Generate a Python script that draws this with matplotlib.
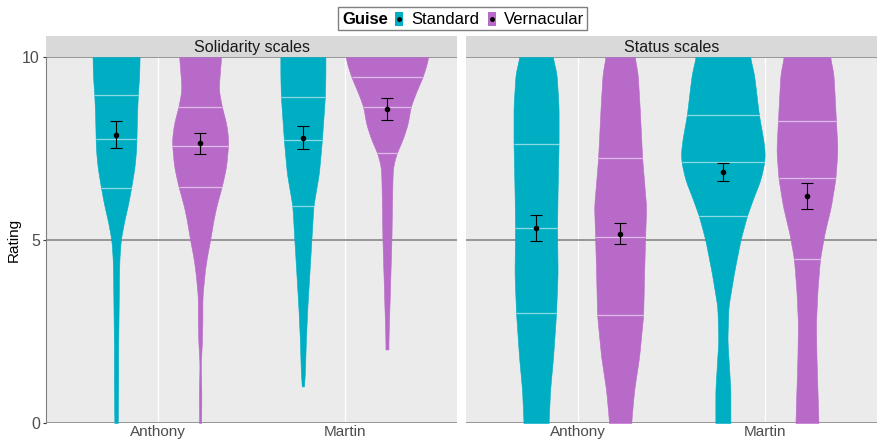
import numpy as np
import matplotlib
matplotlib.use("Agg")
import matplotlib.pyplot as plt
from matplotlib.patches import Rectangle

plt.rcParams['font.family'] = ['Liberation Sans', 'DejaVu Sans']

panels = ["Solidarity scales", "Status scales"]
speakers = ["Anthony", "Martin"]
guises = ["Standard", "Vernacular"]
colors = {"Standard": "#00AEC3", "Vernacular": "#B86AC8"}

# violin profiles: rating levels and relative width (1 = widest violin)
prof_y = {
    ("Solidarity scales", "Anthony", "Standard"): [0, 1, 2, 3, 4, 4.5, 5, 5.5, 6, 6.5, 7, 7.5, 8, 8.5, 9, 9.5, 10],
    ("Solidarity scales", "Anthony", "Vernacular"): [0, 0.8, 1.6, 2.2, 2.8, 3.45, 4.1, 4.5, 5, 5.5, 5.9, 6.5, 7, 7.6, 7.8, 8.2, 8.6, 9.1, 9.5, 10],
    ("Solidarity scales", "Martin", "Standard"): [1, 1.36, 2.27, 3.18, 4.09, 5, 5.94, 6.82, 7.73, 8.92, 9.5, 10],
    ("Solidarity scales", "Martin", "Vernacular"): [2.01, 2.27, 3.18, 4.09, 5, 5.92, 6.64, 7, 7.37, 7.73, 8.19, 8.64, 9.1, 9.44, 9.74, 10],
    ("Status scales", "Anthony", "Standard"): [0, 0.9, 1.81, 3, 4.09, 5.33, 6.37, 7.62, 8.64, 9.55, 10],
    ("Status scales", "Anthony", "Vernacular"): [0, 0.9, 1.81, 2.94, 4.09, 5.09, 5.91, 7.23, 8.64, 9.55, 10],
    ("Status scales", "Martin", "Standard"): [0, 0.9, 1.36, 2.27, 3.18, 4.09, 5, 5.66, 6.19, 6.64, 7.13, 7.37, 7.73, 8.41, 9.1, 9.55, 10],
    ("Status scales", "Martin", "Vernacular"): [0, 0.9, 1.81, 2.72, 3.63, 4.49, 5.18, 5.92, 6.69, 7.46, 8.26, 9.55, 10],
}
prof_w = {
    ("Solidarity scales", "Anthony", "Standard"): [0.04, 0.05, 0.05, 0.06, 0.07, 0.08, 0.11, 0.19, 0.29, 0.37, 0.44, 0.48, 0.49, 0.50, 0.52, 0.55, 0.56],
    ("Solidarity scales", "Anthony", "Vernacular"): [0.024, 0.03, 0.014, 0.042, 0.054, 0.054, 0.107, 0.155, 0.238, 0.31, 0.381, 0.524, 0.619, 0.667, 0.667, 0.619, 0.524, 0.44, 0.464, 0.5],
    ("Solidarity scales", "Martin", "Standard"): [0.024, 0.048, 0.071, 0.107, 0.155, 0.202, 0.25, 0.381, 0.452, 0.524, 0.536, 0.536],
    ("Solidarity scales", "Martin", "Vernacular"): [0.036, 0.036, 0.06, 0.083, 0.107, 0.119, 0.131, 0.143, 0.226, 0.369, 0.5, 0.56, 0.714, 0.845, 0.929, 0.988],
    ("Status scales", "Anthony", "Standard"): [0.298, 0.333, 0.405, 0.476, 0.512, 0.5, 0.512, 0.536, 0.536, 0.488, 0.393],
    ("Status scales", "Anthony", "Vernacular"): [0.262, 0.333, 0.452, 0.548, 0.571, 0.595, 0.619, 0.524, 0.464, 0.417, 0.345],
    ("Status scales", "Martin", "Standard"): [0.179, 0.179, 0.155, 0.107, 0.131, 0.262, 0.417, 0.571, 0.738, 0.893, 0.988, 1.0, 0.964, 0.857, 0.786, 0.738, 0.643],
    ("Status scales", "Martin", "Vernacular"): [0.274, 0.25, 0.226, 0.214, 0.25, 0.31, 0.417, 0.571, 0.679, 0.726, 0.69, 0.631, 0.548],
}
# quartiles (25, 50, 75)
quartiles = {
    ("Solidarity scales", "Anthony", "Standard"): [6.41, 7.75, 8.96],
    ("Solidarity scales", "Anthony", "Vernacular"): [6.46, 7.57, 8.64],
    ("Solidarity scales", "Martin", "Standard"): [5.94, 7.73, 8.92],
    ("Solidarity scales", "Martin", "Vernacular"): [7.37, 8.64, 9.44],
    ("Status scales", "Anthony", "Standard"): [3.0, 5.33, 7.62],
    ("Status scales", "Anthony", "Vernacular"): [2.94, 5.09, 7.23],
    ("Status scales", "Martin", "Standard"): [5.66, 7.13, 8.41],
    ("Status scales", "Martin", "Vernacular"): [4.49, 6.69, 8.26],
}
# mean, lower, upper
means = {
    ("Solidarity scales", "Anthony", "Standard"): [7.87, 7.50, 8.24],
    ("Solidarity scales", "Anthony", "Vernacular"): [7.64, 7.36, 7.92],
    ("Solidarity scales", "Martin", "Standard"): [7.79, 7.48, 8.11],
    ("Solidarity scales", "Martin", "Vernacular"): [8.58, 8.28, 8.89],
    ("Status scales", "Anthony", "Standard"): [5.33, 4.97, 5.68],
    ("Status scales", "Anthony", "Vernacular"): [5.17, 4.88, 5.46],
    ("Status scales", "Martin", "Standard"): [6.86, 6.60, 7.11],
    ("Status scales", "Martin", "Vernacular"): [6.19, 5.84, 6.55],
}

W, H = 877, 441
fig = plt.figure(figsize=(W / 100, H / 100), dpi=100)
fig.patch.set_facecolor("white")

max_width = 0.45
dodge = 0.225


def smooth_profile(ys, ws):
    ys = np.asarray(ys, float)
    ws = np.asarray(ws, float)
    yy = np.linspace(ys[0], ys[-1], 400)
    ww = np.interp(yy, ys, ws)
    step = yy[1] - yy[0]
    sig = 0.12 / step
    k = np.arange(-int(3 * sig), int(3 * sig) + 1)
    ker = np.exp(-0.5 * (k / sig) ** 2)
    ker /= ker.sum()
    pad = len(k) // 2
    wp = np.concatenate([np.full(pad, ww[0]), ww, np.full(pad, ww[-1])])
    ww = np.convolve(wp, ker, mode="valid")
    return yy, ww


for pi, panel in enumerate(panels):
    left = (46 if pi == 0 else 466) / W
    ax = fig.add_axes([left, (H - 423) / H, 411 / W, 366 / H])
    ax.set_facecolor("#EBEBEB")
    ax.set_xlim(0.4, 2.6)
    ax.set_ylim(0, 10)
    for x in [1, 2]:
        ax.axvline(x, color="white", lw=0.9, zorder=0)
    for yv in [0, 5, 10]:
        ax.axhline(yv, color="#7F7F7F", lw=1.1, zorder=1)
    for si, spk in enumerate(speakers):
        for gi, g in enumerate(guises):
            key = (panel, spk, g)
            xc = si + 1 + (-dodge if gi == 0 else dodge)
            yy, ww = smooth_profile(prof_y[key], prof_w[key])
            half = ww * max_width / 2
            ax.fill_betweenx(yy, xc - half, xc + half, color=colors[g],
                             lw=0.4, edgecolor=colors[g], zorder=2)
            for q in quartiles[key]:
                hq = np.interp(q, yy, half)
                ax.plot([xc - hq, xc + hq], [q, q], color="white", alpha=0.55,
                        lw=0.9, zorder=3, solid_capstyle="butt")
            m, lo, hi = means[key]
            ax.errorbar([xc], [m], yerr=[[m - lo], [hi - m]], fmt="o", color="black",
                        ms=3, lw=0.8, capsize=4.5, capthick=0.8, zorder=4)
    ax.set_xticks([1, 2])
    ax.set_xticklabels(speakers, fontsize=11, color="#4D4D4D")
    ax.tick_params(axis="x", length=0, pad=1.5)
    for s in ax.spines.values():
        s.set_visible(False)
    if pi == 0:
        ax.set_yticks([0, 5, 10])
        ax.set_yticklabels(["0", "5", "10"], fontsize=11.5, color="#4D4D4D")
        ax.tick_params(axis="y", length=2.5, color="#333333", pad=2)
        ax.spines["left"].set_visible(True)
        ax.spines["left"].set_color("#7F7F7F")
    else:
        ax.set_yticks([])

    # facet strip
    sax = fig.add_axes([left, (H - 57) / H, 411 / W, 21 / H])
    sax.set_facecolor("#D9D9D9")
    sax.set_xticks([])
    sax.set_yticks([])
    for s in sax.spines.values():
        s.set_visible(False)
    sax.text(0.5, 0.45, panel, ha="center", va="center", fontsize=11.5, color="#1A1A1A",
             transform=sax.transAxes)

fig.text(14 / W, 1 - 240 / H, "Rating", rotation=90, fontsize=11, ha="center", va="center")

# legend drawn at the top, ggplot style (title left, keys inline)
fig.add_artist(Rectangle((338 / W, 1 - 30 / H), 249 / W, 23 / H, transform=fig.transFigure,
                         facecolor="white", edgecolor="#7F7F7F", lw=1.0))
yc = 1 - 19 / H
fig.text(342 / W, yc, "Guise", fontsize=12, fontweight="bold", va="center", ha="left")
for g, kx, tx in [("Standard", 395, 411), ("Vernacular", 488, 504)]:
    fig.add_artist(Rectangle((kx / W, 1 - 26 / H), 8 / W, 14 / H, transform=fig.transFigure,
                             facecolor=colors[g], edgecolor="none"))
    fig.add_artist(plt.Line2D([(kx + 4) / W], [yc], marker="o", ms=2.5, color="black",
                              transform=fig.transFigure))
    fig.text(tx / W, yc, g, fontsize=12, va="center", ha="left")

fig.savefig("out.png", dpi=100)
